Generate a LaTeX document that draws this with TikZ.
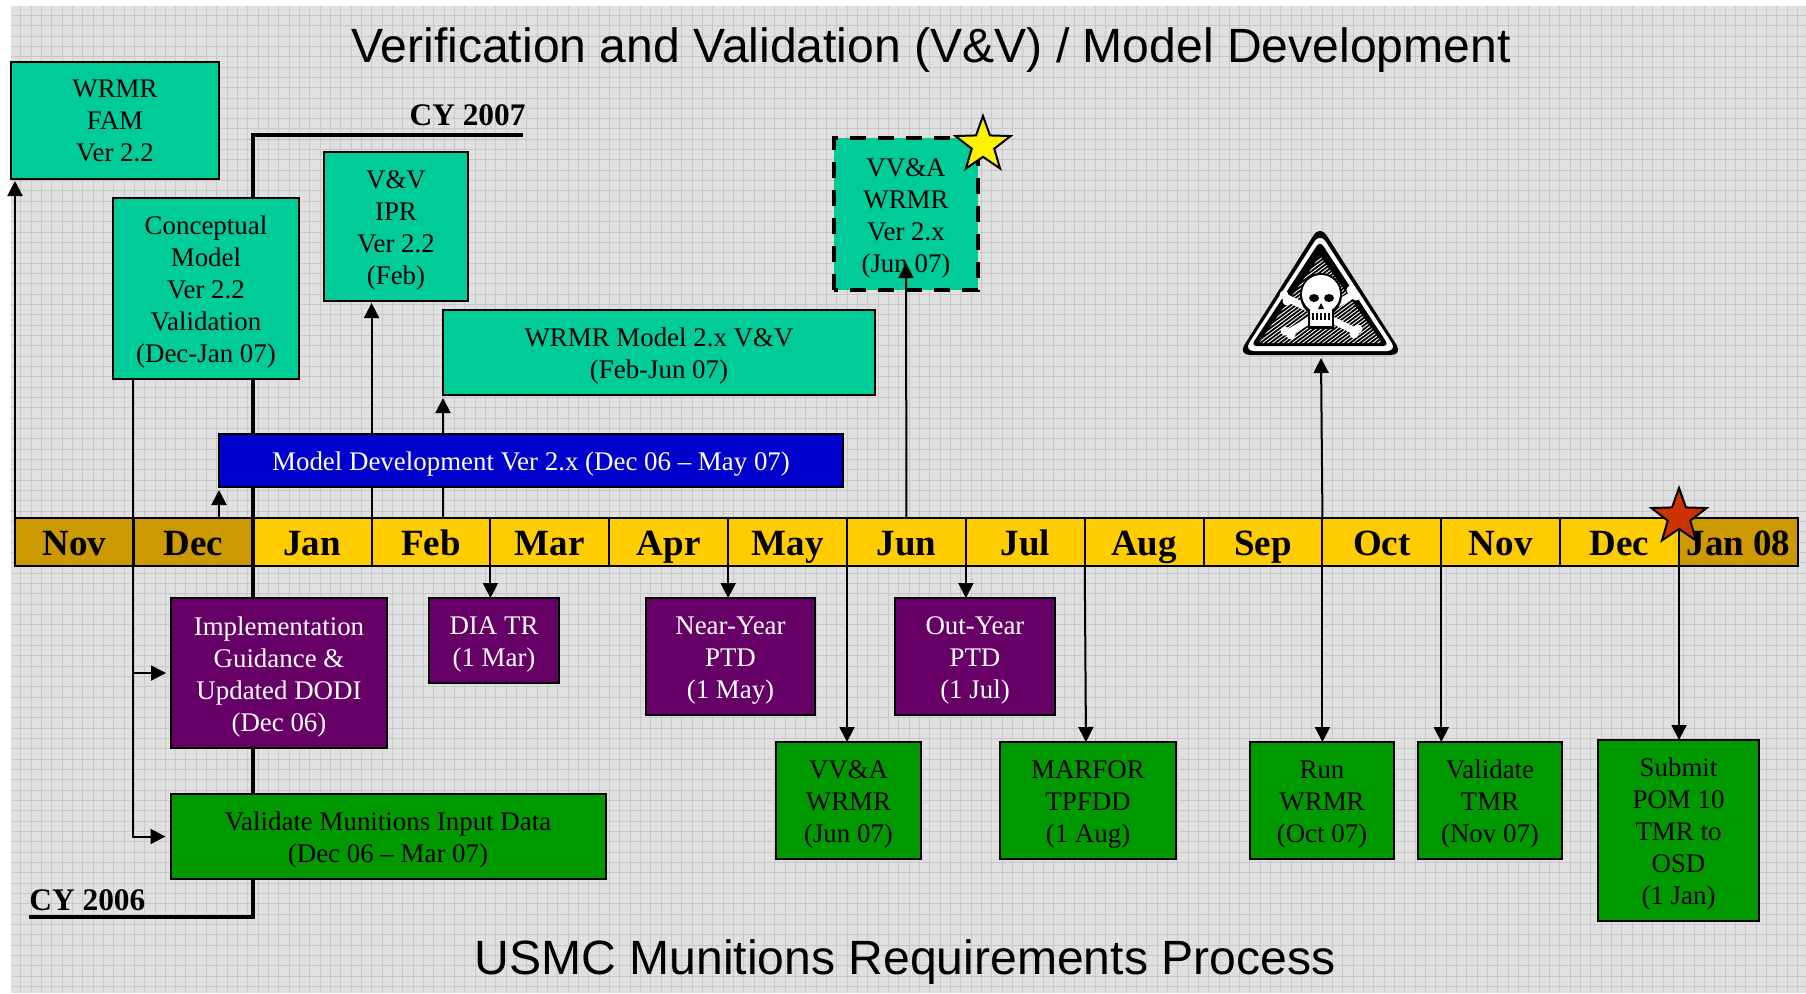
\documentclass[tikz,border=0pt]{standalone}
\usepackage{fontspec}
\setmainfont{Liberation Serif}
\newfontfamily\titlefont{Liberation Sans}
\usetikzlibrary{arrows.meta}
\usetikzlibrary{positioning}
\usetikzlibrary{shapes.geometric}

\definecolor{paper}{HTML}{E0E0E0}
\definecolor{gridgray}{HTML}{C8C8C8}
\definecolor{tealbox}{HTML}{00CC99}
\definecolor{plumbox}{HTML}{660066}
\definecolor{greenbox}{HTML}{009900}
\definecolor{bluebox}{HTML}{0000CC}
\definecolor{gold}{HTML}{FFCC00}
\definecolor{darkgold}{HTML}{CC9900}
\definecolor{redstar}{HTML}{CC3300}

\tikzset{
    box/.style={draw=black, line width=1pt, inner sep=0pt, outer sep=0pt, align=center,
        font=\fontsize{13.45}{16}\selectfont},
    teal/.style={box, fill=tealbox, text=black},
    plum/.style={box, fill=plumbox, text=white},
    leaf/.style={box, fill=greenbox, text=black},
    month/.style={draw=black, line width=1pt, inner sep=0pt, outer sep=0pt, fill=gold,
        minimum width=59.43pt, minimum height=24pt, text height=13.5pt, text depth=0pt,
        font=\fontsize{18.5}{20}\selectfont\bfseries},
    cylabel/.style={inner sep=0pt, text depth=0pt,
        font=\fontsize{15.7}{18}\selectfont\bfseries},
    cyline/.style={line width=2.2pt, line join=miter},
    link/.style={-{Triangle[length=7.5pt,width=7.5pt]}, line width=1pt},
    mark star/.style={star, star points=5, star point ratio=2.45, draw=black, line width=1pt,
        minimum size=29pt, inner sep=0pt},
    heading/.style={font=\fontsize{24.05}{26}\selectfont\titlefont},
}

% one empty line on top, so the lines sit a little low in the box
\newcommand{\low}{\\[-3pt]}

\begin{document}
\begin{tikzpicture}[x=0.5pt, y=-0.5pt]

    \useasboundingbox (0,0) rectangle (1806,993);

    % Paper

    \fill[paper] (11,6) rectangle (1806,993);
    \begin{scope}[gridgray, line width=0.45pt]
        \foreach \gx in {1,...,174} {
            \draw ({10.33*\gx+10.33},6) -- ({10.33*\gx+10.33},993);
        }
        \foreach \gy in {0,...,95} {
            \draw (11,{10.33*\gy+15.3}) -- (1806,{10.33*\gy+15.3});
        }
    \end{scope}

    % Headings

    \node[heading] (title)  at (931,50)  {Verification and Validation (V\&V) / Model Development};
    \node[heading] (footer) at (905,962) {USMC Munitions Requirements Process};

    % Months

    \node[month, fill=darkgold, anchor=west] (nov) at (15,542) {Nov};
    \node[month, fill=darkgold, right=0pt of nov] (dec) {Dec};
    \node[month, right=0pt of dec] (jan) {Jan};
    \node[month, right=0pt of jan] (feb) {Feb};
    \node[month, right=0pt of feb] (mar) {Mar};
    \node[month, right=0pt of mar] (apr) {Apr};
    \node[month, right=0pt of apr] (may) {May};
    \node[month, right=0pt of may] (jun) {Jun};
    \node[month, right=0pt of jun] (jul) {Jul};
    \node[month, right=0pt of jul] (aug) {Aug};
    \node[month, right=0pt of aug] (sep) {Sep};
    \node[month, right=0pt of sep] (oct) {Oct};
    \node[month, right=0pt of oct] (nvb) {Nov};
    \node[month, right=0pt of nvb] (dcb) {Dec};
    \node[month, fill=darkgold, right=0pt of dcb] (jnb) {Jan 08};

    % Calendar years

    \node[cylabel, anchor=south west] (cy06) at (29,911) {CY 2006};
    \node[cylabel, anchor=south east] (cy07) at (526,126) {CY 2007};
    \coordinate (cyfoot) at (253,917);
    \coordinate (cytop)  at (253,135);
    \draw[cyline] (cy06.south west |- cyfoot) -- (cyfoot) -- (cytop) -- (523,135);

    % Boxes above the line

    \node[teal, minimum width=104pt, minimum height=58.5pt] (fam) at (115,120.5) {WRMR\\FAM\\Ver 2.2};
    \node[teal, minimum width=93pt, minimum height=90.5pt] (concept) at (206,288.5) {\low Conceptual\\Model\\Ver 2.2\\Validation\\(Dec-Jan 07)};
    \node[teal, minimum width=72pt, minimum height=74.5pt] (ipr) at (396,226.5) {\low V\&V\\IPR\\Ver 2.2\\(Feb)};
    \node[teal, minimum width=216pt, minimum height=42.5pt] (model) at (659,352.5) {\low WRMR Model 2.x V\&V\\(Feb-Jun 07)};
    \node[teal, minimum width=72pt, minimum height=76pt, draw=none] (vva) at (906,214) {\low VV\&A\\WRMR\\Ver 2.x\\(Jun 07)};
    \draw[line width=2pt, dash pattern=on 8pt off 6pt] (vva.south west) rectangle (vva.north east);

    % Boxes below the line

    \node[plum, minimum width=108pt, minimum height=75pt] (impl) at (279,673) {\low Implementation\\Guidance \&\\Updated DODI\\(Dec 06)};
    \node[plum, minimum width=65pt, minimum height=42.5pt] (dia) at (494,640.5) {\low DIA TR\\(1 Mar)};
    \node[plum, minimum width=84.5pt, minimum height=58.5pt] (near) at (730.5,656.5) {\low Near-Year\\PTD\\(1 May)};
    \node[plum, minimum width=80pt, minimum height=58.5pt] (out) at (975,656.5) {\low Out-Year\\PTD\\(1 Jul)};
    \node[leaf, minimum width=217.5pt, minimum height=42.5pt] (munitions) at (388,836.5) {\low Validate Munitions Input Data\\(Dec 06 – Mar 07)};
    \node[leaf, minimum width=72.5pt, minimum height=58.5pt] (vvb) at (848.5,800.5) {\low VV\&A\\WRMR\\(Jun 07)};
    \node[leaf, minimum width=88pt, minimum height=58.5pt] (marfor) at (1088,800.5) {\low MARFOR\\TPFDD\\(1 Aug)};
    \node[leaf, minimum width=72pt, minimum height=58.5pt] (run) at (1322,800.5) {\low Run\\WRMR\\(Oct 07)};
    \node[leaf, minimum width=72pt, minimum height=58.5pt] (tmr) at (1490,800.5) {\low Validate\\TMR\\(Nov 07)};
    \node[leaf, minimum width=80.5pt, minimum height=90.5pt] (pom) at (1678.5,830.5) {\low Submit\\POM 10\\TMR to\\OSD\\(1 Jan)};

    % Hazard sign

    \fill[black, rounded corners=6pt] (1320,225) -- (1238,355) -- (1403,355) -- cycle;
    \fill[white, rounded corners=5pt] (1320,233) -- (1244,351) -- (1397,351) -- cycle;
    \fill[black, rounded corners=3pt] (1320,241) -- (1251,346) -- (1389,346) -- cycle;
    \begin{scope}
        \clip (1320,256) -- (1259,343) -- (1382,343) -- cycle;
        \foreach \hx in {1180,1185,...,1420} {
            \draw[white, line width=0.45pt] (\hx,345) -- ({\hx+130},248);
        }
    \end{scope}
    \draw[white, line width=3.5pt] (1287,298) -- (1355,331);
    \draw[white, line width=3.5pt] (1354,294) -- (1288,333);
    \fill[white] (1284,295) circle [radius=4.5] (1287,301) circle [radius=4.5];
    \fill[white] (1358,329) circle [radius=4.5] (1354,334) circle [radius=4.5];
    \fill[white] (1351,290) circle [radius=4.5] (1356,296) circle [radius=4.5];
    \fill[white] (1285,331) circle [radius=4.5] (1291,335) circle [radius=4.5];
    \fill[black] (1321,295) ellipse [x radius=21, y radius=22];
    \fill[black] (1308,310) rectangle (1334,329);
    \fill[white] (1321,294) ellipse [x radius=19, y radius=19];
    \fill[white] (1310,305) rectangle (1332,326);
    \fill[black] (1314,298) ellipse [x radius=5, y radius=4];
    \fill[black] (1329,298) ellipse [x radius=5, y radius=4];
    \fill[black] (1321,303) -- (1318,309) -- (1324,309) -- cycle;
    \fill[black] (1312,313) rectangle (1330,320);
    \foreach \tx in {1315,1319,1323,1327} {
        \draw[white, line width=0.7pt] (\tx,313) -- (\tx,320);
    }

    % Arrows

    \coordinate (vvatip)   at (906,263);
    \coordinate (signtip)  at (1321,358);
    \coordinate (marftip)  at (1086,742);
    \coordinate (cmtop)    at (133,379);

    \draw[link, shorten >=1pt] (nov.north west) -- (nov.north west |- fam.south);
    \draw[link, shorten >=1pt] (feb.north west) -- (feb.north west |- ipr.south);
    \draw[link, shorten >=1.5pt] (mar.north -| model.south west) -- (model.south west);
    \draw[link] (jun.north) -- (vvatip);
    \draw[link] (oct.north west) -- (signtip);

    \draw[link, shorten >=2.5pt] (cmtop) |- (impl.west);
    \draw[link, shorten >=2.5pt] (cmtop) |- (munitions.west);

    \draw[link] (mar.south west) -- (mar.south west |- dia.north);
    \draw[link] (may.south west) -- (may.south west |- near.north);
    \draw[link] (jul.south west) -- (jul.south west |- out.north);
    \draw[link] (jun.south west) -- (jun.south west |- vvb.north);
    \draw[link] (aug.south west) -- (marftip);
    \draw[link] (oct.south west) -- (oct.south west |- run.north);
    \draw[link] (nvb.south west) -- (nvb.south west |- tmr.north);
    \draw[link] (jnb.north west) -- (jnb.south west |- pom.north);

    % Over the arrows

    \node[box, fill=bluebox, text=white, minimum width=312pt, minimum height=26.5pt] (devel) at (531,460.5) {\low Model Development Ver 2.x (Dec 06 – May 07)};
    \draw[link, shorten >=1.5pt] (dec.north -| devel.south west) -- (devel.south west);

    \node[mark star, fill=yellow] (gstar) at (983,145) {};
    \node[mark star, fill=redstar] (rstar) at (1679,517) {};

\end{tikzpicture}
\end{document}
